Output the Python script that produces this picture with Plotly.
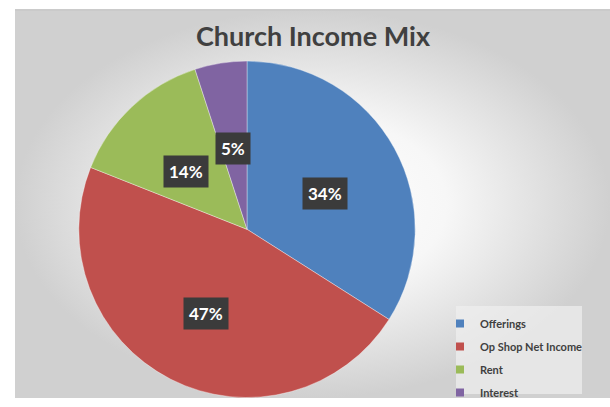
import math
import plotly.graph_objects as go

labels = ["Offerings", "Op Shop Net Income", "Rent", "Interest"]
values = [34, 47, 14, 5]
colors = ["#4F81BD", "#C0504D", "#9BBB59", "#8064A2"]
title_text = "Church Income Mix"

W, H = 610, 407
cx, cy, R = 247, 172.5, 172  # pie centre / radius in pixel-like data units (y up)

fig = go.Figure()

# background chart area with radial gradient
fig.add_trace(go.Scatter(
    x=[15, 610, 610, 15, 15], y=[0, 0, 397, 397, 0],
    mode="lines", line=dict(width=0), fill="toself",
    fillgradient=dict(type="radial",
                      colorscale=[[0, "#ffffff"], [0.45, "#f7f7f7"], [1, "#d0d0d0"]]),
    hoverinfo="skip", showlegend=False,
))

fig.add_trace(go.Pie(
    labels=labels, values=values, sort=False, direction="clockwise", rotation=0,
    marker=dict(colors=colors, line=dict(color="rgba(255,255,255,0.6)", width=0.6)),
    textinfo="none", hoverinfo="label+percent", showlegend=False,
    domain=dict(x=[(cx - R) / W, (cx + R) / W], y=[(cy - R) / H, (cy + R) / H]),
))

# legend entries
for i, (lab, col) in enumerate(zip(labels, colors)):
    fig.add_trace(go.Scatter(
        x=[None], y=[None], mode="markers", name=lab, legendgroup=f"g{i}",
        marker=dict(symbol="square", size=8, color=col),
    ))

# data labels (dark boxes) placed from the data
total = sum(values)
cum = 0
for v in values:
    mid = (cum + v / 2) / total * 2 * math.pi
    cum += v
    d = 0.52 * R
    fig.add_annotation(
        x=cx + d * math.sin(mid), y=cy - 6 + d * math.cos(mid), xref="x", yref="y",
        text=f"{round(v / total * 100)}%", showarrow=False,
        font=dict(family="Lato", size=17, color="white", weight="bold"),
        bgcolor="#3b3b3b", borderpad=5,
    )

fig.update_layout(
    width=W, height=H, margin=dict(l=0, r=0, t=0, b=0),
    paper_bgcolor="white", plot_bgcolor="rgba(0,0,0,0)",
    xaxis=dict(range=[0, W], visible=False, fixedrange=True),
    yaxis=dict(range=[0, H], visible=False, fixedrange=True),
    title=dict(text=title_text, x=313 / W, y=1 - 37 / H, xanchor="center", yanchor="middle",
               font=dict(family="Lato", size=27, color="#404040", weight="bold")),
    legend=dict(x=440 / W, y=1 - 316 / H, xanchor="left", yanchor="top",
                bgcolor="rgba(0,0,0,0)", tracegroupgap=4,
                font=dict(family="Lato", size=11, color="#404040", weight="bold"),
                itemwidth=30),
    shapes=[
        dict(type="line", xref="x", yref="y", x0=15, x1=610, y0=397, y1=397,
             line=dict(color="#bdbdbd", width=1), layer="above"),
        dict(type="rect", xref="x", yref="y", x0=456, x1=582, y0=H - 403, y1=H - 313,
             fillcolor="rgba(240,240,240,0.7)", line=dict(width=0), layer="above"),
    ],
    showlegend=True,
)

fig.write_html("out.html", config={"displayModeBar": False},
               post_script="document.body.style.margin='0';document.body.style.overflow='hidden';")
